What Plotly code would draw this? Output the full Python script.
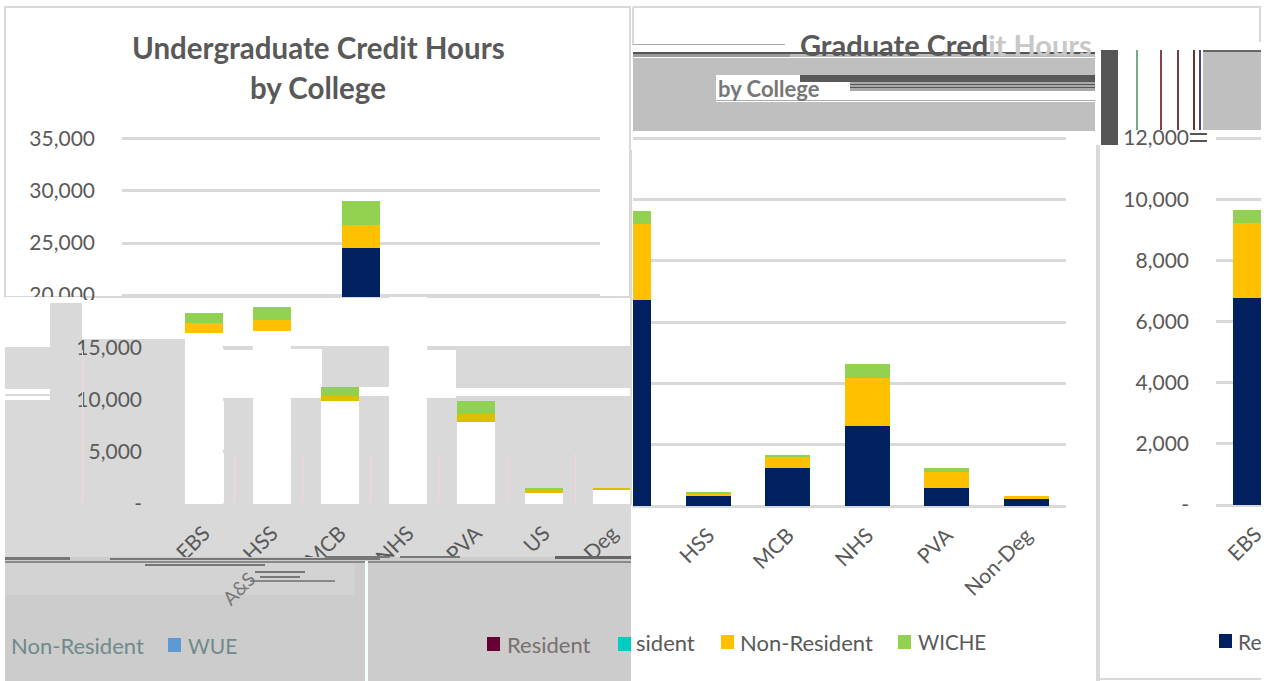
import plotly.graph_objects as go

W, H = 1270, 681

# ---- data ----
colleges_ug = ["EBS", "HSS", "MCB", "NHS", "PVA", "US", "Non-Deg"]
resident_ug = [16360, 16550, 9860, 24500, 7880, 1050, 1390]
nonres_ug = [960, 1050, 470, 2200, 730, 290, 140]
wiche_ug = [960, 1250, 870, 2300, 1250, 160, 0]

colleges_gr = ["EBS", "HSS", "MCB", "NHS", "PVA", "Non-Deg"]
resident_gr = [6730, 340, 1250, 2620, 590, 230]
nonres_gr = [2455, 70, 365, 1550, 520, 85]
wiche_gr = [425, 50, 45, 455, 130, 0]

colleges_third = ["EBS"]
resident_third = [6760]
nonres_third = [2460]
wiche_third = [430]

series_names = ["Resident", "Non-Resident", "WICHE"]
NAVY, GOLD, GREEN = "#002060", "#FFC000", "#92D050"
OLIVE = "#DCC000"
TXT = "#595959"
FONT = "Lato"
G1, G2, G3 = "#D9D9D9", "#CCCCCC", "#BFBFBF"


def fx(x):
    return x / W


def fy(y):
    return 1 - y / H


fig = go.Figure()


def add_panel(n, cats, vals, colors, xd, yd, xr, yr, yvals=None, ytext=None, xlabels=True, standoff=27):
    xa = "x" if n == 1 else f"x{n}"
    ya = "y" if n == 1 else f"y{n}"
    for name, v, c in zip(series_names, vals, colors):
        fig.add_trace(go.Bar(x=cats, y=v, name=name, marker=dict(color=c, line_width=0),
                             xaxis=xa, yaxis=ya, showlegend=False, width=0.565))
    xkey = "xaxis" if n == 1 else f"xaxis{n}"
    ykey = "yaxis" if n == 1 else f"yaxis{n}"
    fig.update_layout({
        xkey: dict(domain=[fx(xd[0]), fx(xd[1])], range=xr, type="category", anchor=ya, showgrid=False,
                   zeroline=False, showline=False, ticks="", showticklabels=xlabels, tickangle=-45, automargin=False,
                   categoryorder="array", categoryarray=cats,
                   tickfont=dict(family=FONT, size=21, color=TXT), ticklabelstandoff=12),
        ykey: dict(domain=[fy(yd[1]), fy(yd[0])], range=yr, anchor=xa, showgrid=True, gridcolor=G1, gridwidth=2.5,
                   zeroline=True, zerolinecolor=G1, zerolinewidth=2.5, showline=False, ticks="", automargin=False,
                   tickmode="array", tickvals=yvals or [], ticktext=ytext or [],
                   showticklabels=bool(ytext), tickfont=dict(family=FONT, size=21, color=TXT),
                   ticklabelstandoff=standoff),
    })


ug = [resident_ug, nonres_ug, wiche_ug]
ticks_ug = [0, 5000, 10000, 15000, 20000, 25000, 30000, 35000]
labels_ug = ["-", "5,000", "10,000", "15,000", "20,000", "25,000", "30,000", "35,000"]

# lower slice of the first chart (white resident bars, glitch colours)
gold_low = [GOLD, GOLD, OLIVE, GOLD, OLIVE, OLIVE, OLIVE]
add_panel(1, colleges_ug, ug, ["#FFFFFF", gold_low, GREEN], (170, 631), (297, 504), [-0.5, 6.28], [0, 19810],
          ticks_ug[:4], labels_ug[:4], True, 27)
# upper slice of the first chart
add_panel(2, colleges_ug, ug, [NAVY, GOLD, GREEN], (122, 600), (137, 297), [-0.5, 6.5], [19810, 35190],
          ticks_ug[4:], labels_ug[4:], False, 26)

ticks_gr = [0, 2000, 4000, 6000, 8000, 10000, 12000]
labels_gr = ["-", "2,000", "4,000", "6,000", "8,000", "10,000", "12,000"]
add_panel(3, colleges_gr, [resident_gr, nonres_gr, wiche_gr], [NAVY, GOLD, GREEN], (633, 1066), (137, 506),
          [0.05, 5.5], [0, 12033], ticks_gr, None, True)
add_panel(4, colleges_third, [resident_third, nonres_third, wiche_third], [NAVY, GOLD, GREEN], (1216, 1261), (137, 505),
          [-0.5, 0.067], [0, 12033], ticks_gr, labels_gr, True, 26)

shapes = []


def rect(x0, y0, x1, y1, c, layer="above", border=None):
    shapes.append(dict(type="rect", xref="paper", yref="paper", x0=fx(x0), x1=fx(x1), y0=fy(y0), y1=fy(y1),
                       fillcolor=c, layer=layer, line=dict(width=0 if border is None else 2, color=border or c)))


# chart frames
rect(5, 7, 630, 297, "rgba(0,0,0,0)", "below", G1)
rect(633, 6, 1261, 8, G1, "below")
rect(632, 7, 634, 45, G1, "below")
rect(1259, 7, 1261, 42, G1, "below")

# grey background of the lower-left slice (below bars)
for r in [(5, 347, 50, 389), (5, 400, 50, 505), (50, 303, 82, 505), (82, 339, 186, 505),
          (224, 400, 253, 505), (291, 400, 322, 505), (322, 346, 390, 387), (322, 387, 359, 505),
          (359, 396, 390, 505), (427, 400, 456, 505), (456, 346, 631, 388), (456, 400, 631, 505),
          (5, 505, 631, 557)]:
    rect(*r, G1, "below")
# white cover for the broken 20,000 label zone
rect(5, 297, 50, 347, "#FFFFFF", "above")
rect(82, 300, 170, 338, "#FFFFFF", "above")
rect(50, 297, 82, 303, "#FFFFFF", "above")
rect(50, 303, 82, 335, G1, "above")
rect(456, 396, 631, 398, G1, "below")
rect(5, 394, 50, 396, G1, "below")
rect(224, 347, 253, 350, G1, "below")
rect(427, 347, 456, 350, G1, "below")
# faint vertical streaks
for sx in [82, 234, 302, 370, 438, 507, 575]:
    rect(sx, 453 if sx != 82 else 350, sx + 1, 503, "#F3D6D6", "above")

# lower strip
rect(5, 557, 631, 681, G2, "above")
rect(5, 563, 355, 595, "#D3D3D3", "above")
for r in [(5, 561, 631, 563, "#8A8A8A"), (5, 557, 70, 560, "#777777"), (110, 558, 380, 560, "#777777"),
          (325, 556, 390, 558, "#777777"), (400, 556, 460, 558, "#777777"), (555, 556, 631, 559, "#666666"),
          (145, 564, 265, 566, "#777777"), (255, 571, 305, 573, "#777777"), (260, 576, 300, 578, "#777777"),
          (250, 580, 335, 582, "#888888"), (365, 561, 368, 681, "#F4FFF8")]:
    rect(*r)

# glitched header of the second chart
rect(633, 58, 1095, 75, G3)
rect(633, 75, 716, 102, G3)
rect(800, 75, 1095, 82, "#595959")
rect(850, 82, 1095, 91, "#A8A8A8")
rect(850, 84, 1095, 85, "#555555")
rect(850, 87, 1095, 88, "#555555")
rect(716, 100, 1095, 101, "#AAAAAA")
rect(633, 102, 1095, 131, G3)
rect(633, 52, 1095, 54, "#555555")
rect(633, 54, 790, 57, "#999999")
rect(790, 54, 1095, 57, "#BBBBBB")
rect(633, 44, 785, 45, "#AAAAAA")
rect(1101, 50, 1118, 145, "#555555")
for sx, c in [(1136, "#77AA88"), (1160, "#884444"), (1177, "#664444"), (1193, "#663333"), (1199, "#444488")]:
    rect(sx, 50, sx + 2, 130, c)
rect(1203, 51, 1261, 130, G3)
rect(1203, 50, 1261, 52, "#666666")
rect(1190, 133, 1207, 135, "#555555")
rect(1190, 140, 1207, 142, "#555555")
# outlines around third chart
rect(1096, 145, 1100, 681, G1)
rect(1100, 678, 1261, 680, G1)
rect(630, 150, 632, 505, G1)

# legend swatches
for x0, c, yc in [(168, "#5B9BD5", 645), (487, "#660033", 644), (618, "#00CCC0", 644), (721, GOLD, 642),
                  (898, GREEN, 642), (1219, NAVY, 641)]:
    rect(x0, yc - 7, x0 + 13, yc + 7, c)

fig.update_layout(shapes=shapes)

notes = []


def note(t, x, y, size=22, color=TXT, anchor="left", angle=0, bold=False):
    notes.append(dict(text=f"<b>{t}</b>" if bold else t, xref="paper", yref="paper", x=fx(x), y=fy(y), xanchor=anchor,
                      yanchor="middle", showarrow=False, textangle=angle,
                      font=dict(family=FONT, size=size, color=color)))


note("Undergraduate Credit Hours", 319, 48, 29.5, TXT, "center", bold=True)
note("by College", 318, 87, 29.5, TXT, "center", bold=True)
note("Graduate Cred<span style='color:#C8C8C8'>it Hours</span>", 798, 45, 29, TXT, bold=True)
note("by College", 716, 88, 22, "#777777", bold=True)
note("A&amp;S", 238, 588, 19, "#777777", "center", -45)
note("Non-Resident", 9, 645, 22, "#6F8A8A")
note("WUE", 186, 645, 21, "#6F8A8A")
note("Resident", 505, 644, 22, "#7A6F6F")
note("sident", 634, 642, 22)
note("Non-Resident", 738, 642, 22)
note("WICHE", 916, 642, 20.5)
note("Re", 1236, 641, 21)

fig.update_layout(annotations=notes, width=W, height=H, autosize=False, barmode="stack",
                  margin=dict(l=0, r=0, t=0, b=0), paper_bgcolor="#FFFFFF", plot_bgcolor="rgba(0,0,0,0)",
                  showlegend=False, font=dict(family=FONT, color=TXT))

fig.write_html("out.html", config={"displayModeBar": False}, post_script="document.body.style.margin='0';")
